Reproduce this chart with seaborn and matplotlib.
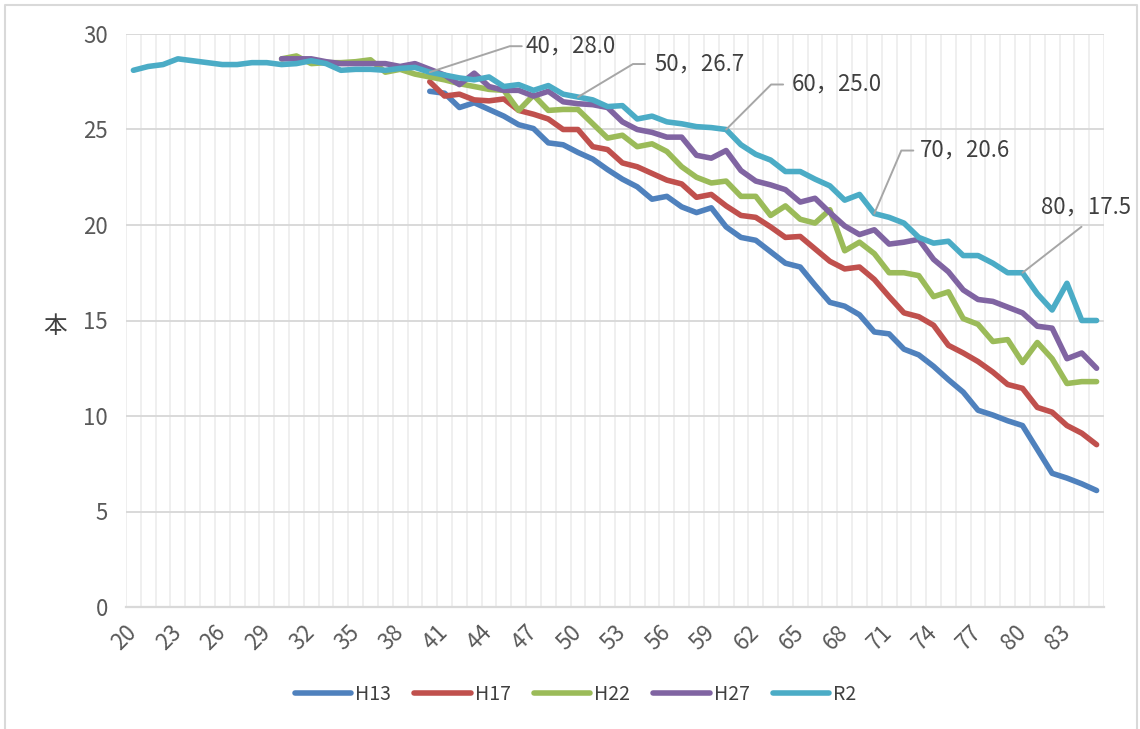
import numpy as np
import pandas as pd
import matplotlib
matplotlib.use("Agg")
import matplotlib.pyplot as plt
import seaborn as sns
from matplotlib.lines import Line2D
from matplotlib.ticker import MultipleLocator
from matplotlib.transforms import IdentityTransform

# ---------------- data ----------------
ages = list(range(20, 86))
nan = np.nan

h13 = [nan] * 20 + [
    27.0, 26.9, 26.15, 26.4, 26.05, 25.7, 25.25, 25.05, 24.3, 24.2,
    23.8, 23.45, 22.9, 22.4, 22.0, 21.35, 21.5, 20.95, 20.65, 20.9,
    19.9, 19.35, 19.2, 18.6, 18.0, 17.8, 16.85, 15.95, 15.75, 15.3,
    14.4, 14.3, 13.5, 13.2, 12.6, 11.9, 11.25, 10.3, 10.05, 9.75,
    9.5, 8.25, 7.0, 6.75, 6.45, 6.1]
h17 = [nan] * 20 + [
    27.5, 26.75, 26.85, 26.55, 26.5, 26.6, 26.0, 25.8, 25.55, 25.0,
    25.0, 24.1, 23.95, 23.25, 23.05, 22.7, 22.35, 22.15, 21.45, 21.6,
    21.0, 20.5, 20.4, 19.9, 19.35, 19.4, 18.75, 18.1, 17.7, 17.8,
    17.15, 16.25, 15.4, 15.2, 14.75, 13.7, 13.3, 12.85, 12.3, 11.65,
    11.45, 10.45, 10.2, 9.5, 9.1, 8.5]
h22 = [nan] * 10 + [
    28.7, 28.85, 28.45, 28.5, 28.5, 28.55, 28.65, 28.0, 28.15, 27.9,
    27.75, 27.6, 27.4, 27.25, 27.1, 27.05, 26.0, 26.8, 26.0, 26.05,
    26.05, 25.3, 24.55, 24.7, 24.1, 24.25, 23.85, 23.05, 22.5, 22.2,
    22.3, 21.5, 21.5, 20.5, 21.0, 20.3, 20.1, 20.8, 18.65, 19.1,
    18.5, 17.5, 17.5, 17.35, 16.25, 16.5, 15.1, 14.8, 13.9, 14.0,
    12.8, 13.85, 13.0, 11.7, 11.8, 11.8]
h27 = [nan] * 10 + [
    28.7, 28.7, 28.7, 28.55, 28.45, 28.45, 28.45, 28.45, 28.3, 28.45,
    28.15, 27.85, 27.35, 27.95, 27.25, 27.05, 27.05, 26.75, 27.0, 26.45,
    26.35, 26.3, 26.15, 25.4, 25.0, 24.85, 24.6, 24.6, 23.65, 23.5,
    23.9, 22.85, 22.3, 22.1, 21.85, 21.2, 21.4, 20.65, 19.95, 19.5,
    19.75, 19.0, 19.1, 19.25, 18.2, 17.55, 16.6, 16.1, 16.0, 15.7,
    15.4, 14.7, 14.6, 13.0, 13.3, 12.5]
r2 = [
    28.1, 28.3, 28.4, 28.7, 28.6, 28.5, 28.4, 28.4, 28.5, 28.5,
    28.4, 28.45, 28.6, 28.45, 28.1, 28.15, 28.15, 28.1, 28.2, 28.25,
    28.0, 27.85, 27.7, 27.6, 27.75, 27.25, 27.35, 27.05, 27.3, 26.85,
    26.7, 26.55, 26.2, 26.25, 25.55, 25.7, 25.4, 25.3, 25.15, 25.1,
    25.0, 24.2, 23.7, 23.4, 22.8, 22.8, 22.4, 22.05, 21.3, 21.6,
    20.6, 20.4, 20.1, 19.35, 19.05, 19.15, 18.4, 18.4, 18.0, 17.5,
    17.5, 16.4, 15.55, 16.95, 15.0, 15.0]

series_names = ["H13", "H17", "H22", "H27", "R2"]
series_values = [h13, h17, h22, h27, r2]
colors = ["#4F81BD", "#C0504D", "#9BBB59", "#8064A2", "#4BACC6"]
y_ticks = [0, 5, 10, 15, 20, 25, 30]
x_ticks = list(range(20, 86, 3))
label_ages = [40, 50, 60, 70, 80]
y_label = "本"

for v in series_values:
    assert len(v) == len(ages)

df = pd.concat([
    pd.DataFrame({"age": ages, "value": vals, "series": name})
    for name, vals in zip(series_names, series_values)
]).dropna()

# ---------------- style ----------------
sns.set_theme(style="white")
plt.rcParams["font.family"] = ["Noto Sans CJK JP", "DejaVu Sans"]

W, H = 1140, 729
fig = plt.figure(figsize=(W / 100, H / 100), dpi=100)
L, R, T, B = 126, 1104, 34, 607
ax = fig.add_axes([L / W, 1 - B / H, (R - L) / W, (B - T) / H])

sns.lineplot(data=df, x="age", y="value", hue="series", hue_order=series_names,
             palette=colors, linewidth=4.0, sort=True, ax=ax, legend=True,
             solid_capstyle="round", solid_joinstyle="round")

ax.set_xlim(19.5, 85.5)
ax.set_ylim(0, 30)
ax.set_yticks(y_ticks)
ax.set_xticks(x_ticks)
ax.set_xticklabels([str(t) for t in x_ticks], rotation=45, ha="right",
                   va="center", rotation_mode="anchor")
ax.xaxis.set_minor_locator(MultipleLocator(1.0))
ax.xaxis.set_minor_locator(matplotlib.ticker.FixedLocator(np.arange(19.5, 86, 1.0)))

ax.grid(axis="y", which="major", color="#D9D9D9", linewidth=1.4)
ax.grid(axis="x", which="minor", color="#EFEFEF", linewidth=1.4)
ax.grid(axis="x", which="major", visible=False)
ax.set_axisbelow(True)
for s in ["left", "right", "top"]:
    ax.spines[s].set_visible(False)
ax.spines["bottom"].set_color("#D9D9D9")
ax.spines["bottom"].set_linewidth(1.6)

ax.tick_params(axis="both", which="both", length=0, colors="#595959", labelsize=16)
ax.tick_params(axis="y", pad=13)
ax.tick_params(axis="x", pad=16)
ax.set_xlabel("")
ax.set_ylabel(y_label, rotation=0, fontsize=17, color="#404040", va="center", ha="center")
ax.yaxis.set_label_coords(-0.073, 0.49)

# legend at bottom
handles, labels = ax.get_legend_handles_labels()
ax.get_legend().remove()
fig.legend(handles, labels, loc="center", bbox_to_anchor=(0.505, 1 - 694 / H),
           ncol=5, frameon=False, fontsize=14, handlelength=2.9,
           handletextpad=0.2, columnspacing=1.2, labelcolor="#404040")

# data labels with leader lines (offsets in pixels: x right, y up)
layout = {
    40: ("elbow", 80, 26, 96),
    50: ("elbow", 55, 33, 76),
    60: ("elbow", 45, 45, 66),
    70: ("elbow", 27, 63, 46),
    80: ("straight", 59, 46, 64),
}
lab_color = "#A6A6A6"
for a in label_ages:
    v = r2[ages.index(a)]
    x0, y0 = ax.transData.transform((a, v))
    kind, ex, ey, tx = layout[a]
    txt = f"{a}，{v:.1f}"
    if kind == "elbow":
        xs = [x0, x0 + ex, x0 + ex + 12]
        ys = [y0, y0 + ey, y0 + ey]
        fig.text((x0 + tx) / W, (y0 + ey) / H, txt, ha="left", va="center",
                 fontsize=16, color="#404040")
    else:
        xs = [x0, x0 + ex]
        ys = [y0, y0 + ey]
        fig.text((x0 + tx) / W, (y0 + 66) / H, txt, ha="center", va="center",
                 fontsize=16, color="#404040")
    fig.add_artist(Line2D(xs, ys, transform=IdentityTransform(),
                          color=lab_color, linewidth=1.4))

# chart area border
fig.add_artist(Line2D([5, 5, 1137, 1137], [-5, H - 5, H - 5, -5],
                      transform=IdentityTransform(), color="#D9D9D9", linewidth=1.5))

fig.savefig("out.png", dpi=100)
